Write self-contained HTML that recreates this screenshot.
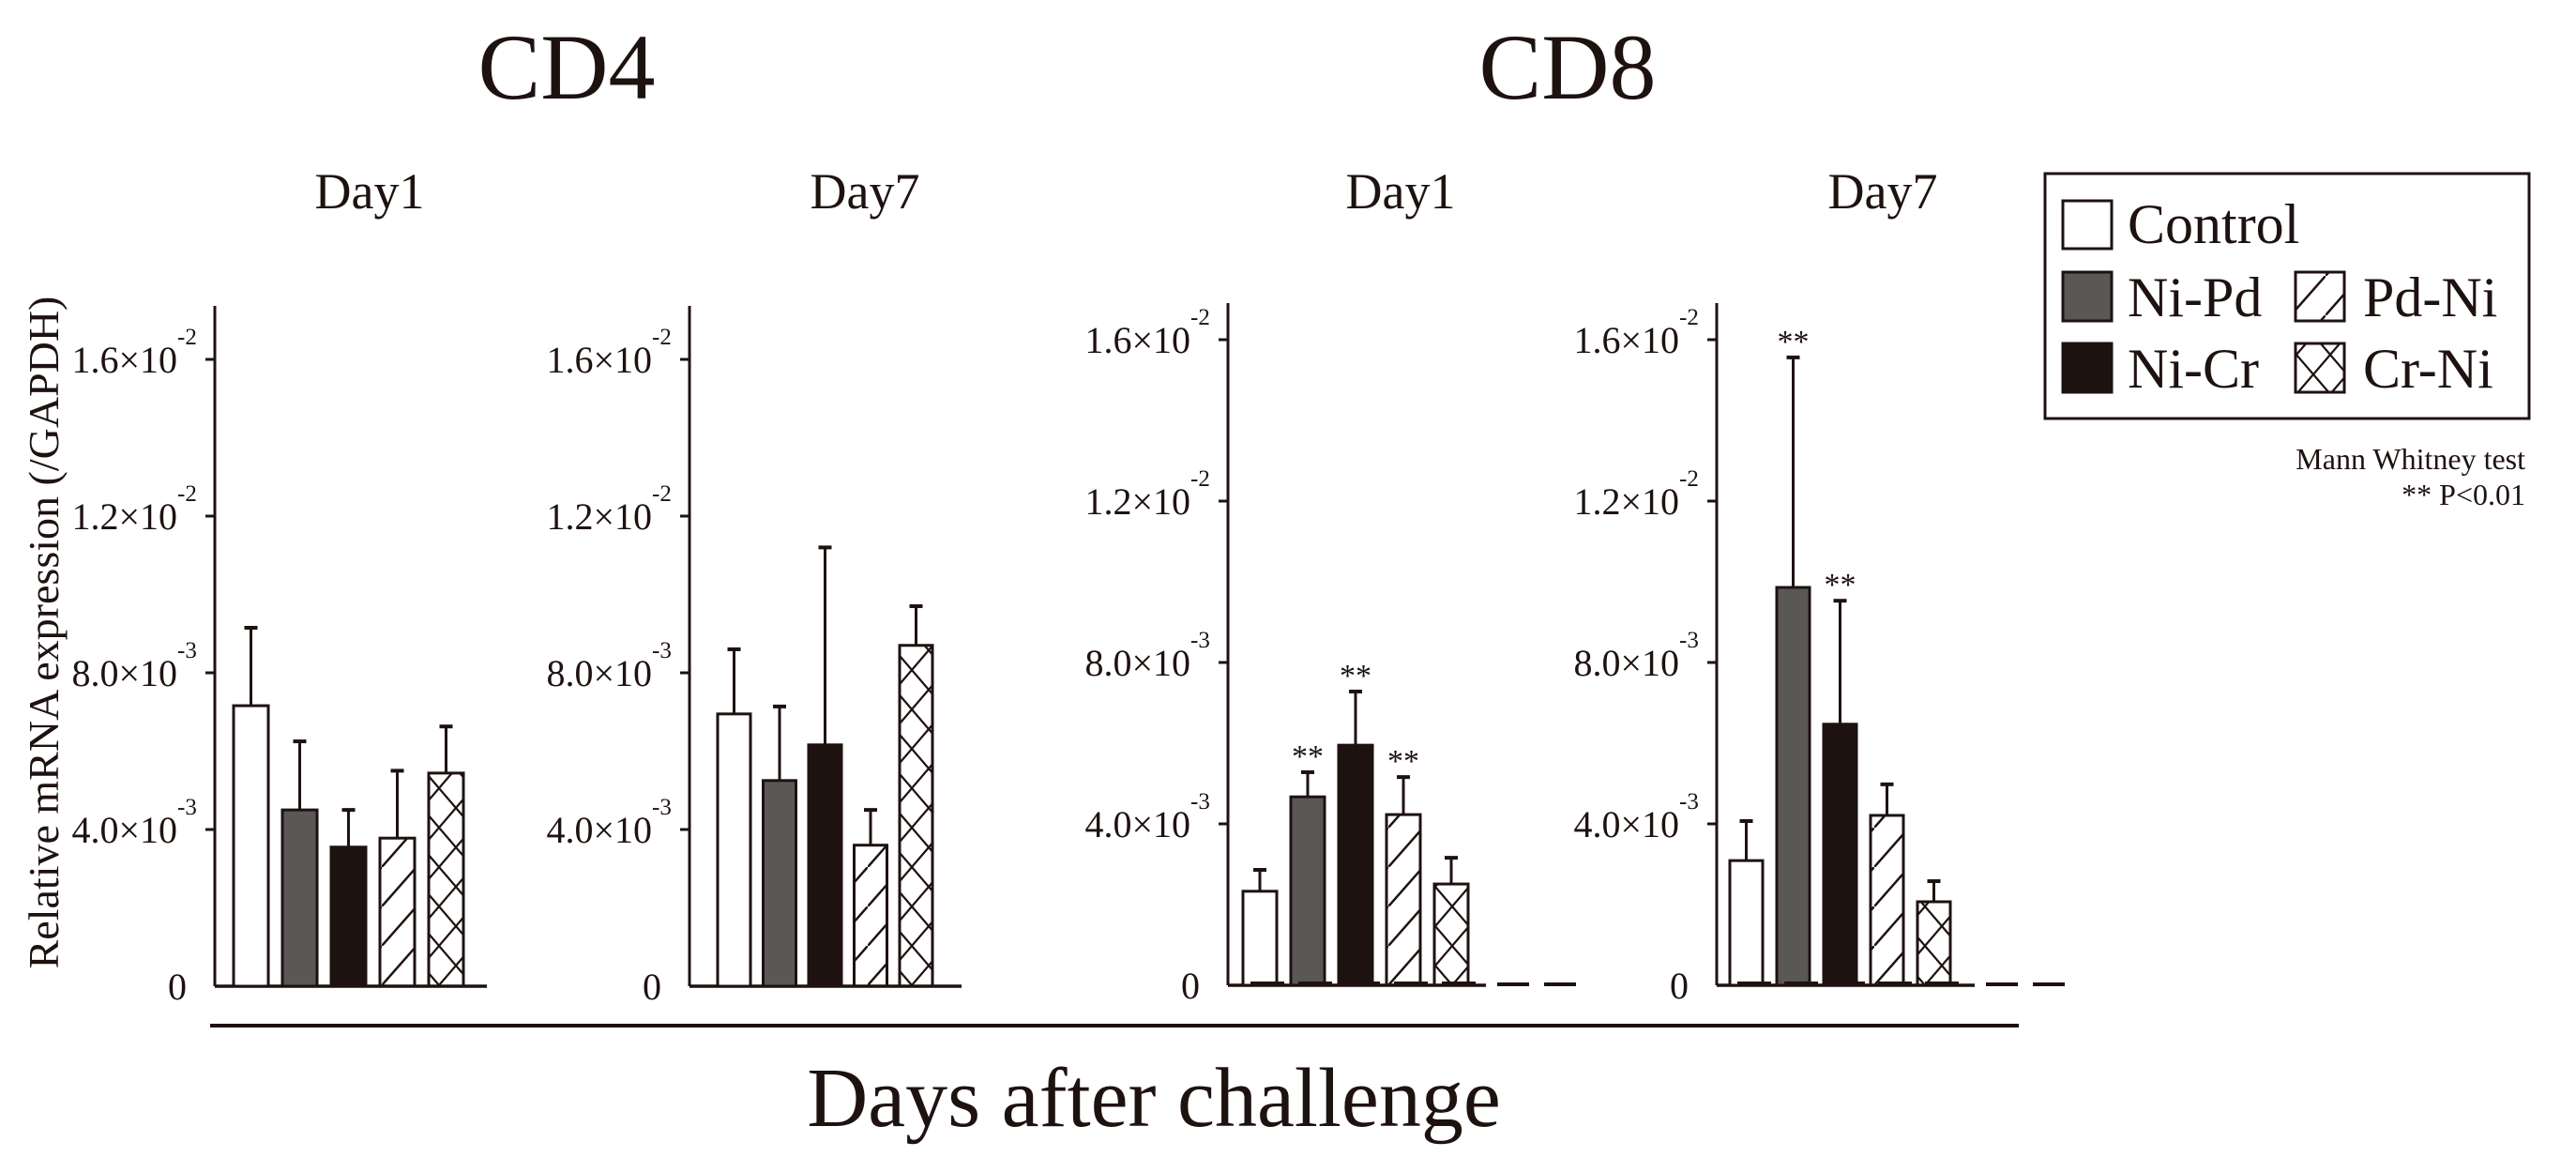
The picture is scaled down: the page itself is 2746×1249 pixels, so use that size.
<!DOCTYPE html>
<html><head><meta charset="utf-8"><style>
html,body{margin:0;padding:0;background:#fff;}
svg{display:block;font-family:"Liberation Serif",serif;}
</style></head><body>
<svg id="chart" width="2746" height="1249" viewBox="0 0 2746 1249" xmlns="http://www.w3.org/2000/svg">
<defs>
<pattern id="hatch" patternUnits="userSpaceOnUse" width="37" height="42">
<line x1="0" y1="42" x2="37" y2="0" stroke="#1e1210" stroke-width="2.5"/>
</pattern>
<pattern id="cross" patternUnits="userSpaceOnUse" width="36" height="42">
<line x1="0" y1="0" x2="36" y2="42" stroke="#1e1210" stroke-width="2.2"/>
<line x1="36" y1="0" x2="0" y2="42" stroke="#1e1210" stroke-width="2.2"/>
</pattern>
</defs>
<text x="604" y="105" font-size="100" text-anchor="middle" fill="#1e1210">CD4</text>
<text x="1671" y="105" font-size="100" text-anchor="middle" fill="#1e1210">CD8</text>
<text x="62" y="674" font-size="46" text-anchor="middle" fill="#1e1210" transform="rotate(-90 62 674)">Relative mRNA expression (/GAPDH)</text>
<line x1="224" y1="1093" x2="2152" y2="1093" stroke="#1e1210" stroke-width="4"/>
<text x="1230" y="1200" font-size="90" text-anchor="middle" fill="#1e1210">Days after challenge</text>
<g>
<rect x="2180" y="185" width="516" height="261" fill="none" stroke="#1e1210" stroke-width="3"/>
<rect x="2199" y="214" width="52" height="51" fill="#fff" stroke="#1e1210" stroke-width="3"/>
<text x="2268" y="259" font-size="60" fill="#1e1210">Control</text>
<rect x="2199" y="290" width="52" height="52" fill="#595857" stroke="#1e1210" stroke-width="3"/>
<text x="2268" y="337" font-size="60" fill="#1e1210">Ni-Pd</text>
<rect x="2199" y="366" width="52" height="52" fill="#1e1210" stroke="#1e1210" stroke-width="3"/>
<text x="2268" y="413" font-size="60" fill="#1e1210">Ni-Cr</text>
<rect x="2447" y="290" width="52" height="52" fill="url(#hatch)" stroke="#1e1210" stroke-width="3"/>
<text x="2519" y="337" font-size="60" fill="#1e1210">Pd-Ni</text>
<rect x="2447" y="366" width="52" height="52" fill="url(#cross)" stroke="#1e1210" stroke-width="3"/>
<text x="2519" y="413" font-size="60" fill="#1e1210">Cr-Ni</text>
</g>
<text x="2692" y="500" font-size="32" text-anchor="end" fill="#1e1210">Mann Whitney test</text>
<text x="2692" y="538" font-size="32" text-anchor="end" fill="#1e1210">** P&lt;0.01</text>
<g id="panels"></g>
</svg>
<script>
const groups = ["Control","Ni-Pd","Ni-Cr","Pd-Ni","Cr-Ni"];
const panelTitles = ["Day1","Day7","Day1","Day7"];
const tickValues = [0, 0.004, 0.008, 0.012, 0.016];
const tickMantissa = ["0","4.0","8.0","1.2","1.6"];
const tickExponent = ["","-3","-3","-2","-2"];
const cd4Day1 = [0.00716, 0.0045, 0.00355, 0.00378, 0.00544];
const cd4Day1Err = [0.00915, 0.00625, 0.0045, 0.0055, 0.00663];
const cd4Day7 = [0.00695, 0.00525, 0.00616, 0.0036, 0.0087];
const cd4Day7Err = [0.0086, 0.00714, 0.0112, 0.0045, 0.0097];
const cd8Day1 = [0.00233, 0.00467, 0.00595, 0.00423, 0.00251];
const cd8Day1Err = [0.00286, 0.00528, 0.00728, 0.00516, 0.00316];
const cd8Day7 = [0.00309, 0.00986, 0.00647, 0.00421, 0.00207];
const cd8Day7Err = [0.00407, 0.01556, 0.00953, 0.00498, 0.00258];
const cd8Day1Sig = [false, true, true, true, false];
const cd8Day7Sig = [false, true, true, false, false];
const noSig = [false, false, false, false, false];

const fills = ["#fff","#595857","#1e1210","url(#hatch)","url(#cross)"];
const NS = "http://www.w3.org/2000/svg";
const root = document.getElementById("panels");
function mk(tag, attrs, parent){const e=document.createElementNS(NS,tag);for(const k in attrs)e.setAttribute(k,attrs[k]);(parent||root).appendChild(e);return e;}

const layout = [
 {ax:229, top:326, zero:1051, unit:167, end:519, b0:249, pitch:52, bw:37, tx:394, dash:false, vals:cd4Day1, err:cd4Day1Err, sig:noSig},
 {ax:735, top:326, zero:1051, unit:167, end:1025, b0:765, pitch:48.5, bw:35, tx:922, dash:false, vals:cd4Day7, err:cd4Day7Err, sig:noSig},
 {ax:1309, top:323, zero:1050, unit:172, end:1584, b0:1325, pitch:51, bw:36, tx:1493, dash:true, vals:cd8Day1, err:cd8Day1Err, sig:cd8Day1Sig},
 {ax:1830, top:323, zero:1050, unit:172, end:2105, b0:1844, pitch:50, bw:35, tx:2007, dash:true, vals:cd8Day7, err:cd8Day7Err, sig:cd8Day7Sig}
];

layout.forEach((p,pi)=>{
  const g = mk("g",{});
  
  
  const y = v => p.zero - v/0.004*p.unit;
  const t = mk("text",{x:p.tx,y:222,"font-size":54,"text-anchor":"middle",fill:"#1e1210"},g);
  t.textContent = panelTitles[pi];
  
  
  const ya = mk("line",{x1:p.ax,y1:p.top,x2:p.ax,y2:p.zero,stroke:"#1e1210","stroke-width":3},g);
  
  
  const xa = mk("line",{x1:p.ax,y1:p.zero,x2:p.end,y2:p.zero,stroke:"#1e1210","stroke-width":3.5},g);
  
  
  if(p.dash){
    for(let d=0; d<2; d++){
      const dl = mk("line",{x1:p.end+12+d*50,y1:p.zero-1,x2:p.end+46+d*50,y2:p.zero-1,stroke:"#1e1210","stroke-width":4},g);
      
      
    }
  }
  tickValues.forEach((v,i)=>{
    const ty = y(v);
    if(i>0){
      const tk = mk("line",{x1:p.ax-10,y1:ty,x2:p.ax,y2:ty,stroke:"#1e1210","stroke-width":3},g);
      
      
      const lb = mk("text",{x:p.ax-40,y:ty+14,"font-size":40,"text-anchor":"end",fill:"#1e1210"},g);
      lb.textContent = tickMantissa[i]+"\u00d710";
      
      
      const ex = mk("text",{x:p.ax-40,y:ty-16,"font-size":25,fill:"#1e1210"},g);
      ex.textContent = tickExponent[i];
      
      
    } else {
      const lb = mk("text",{x:p.ax-30,y:ty+14,"font-size":40,"text-anchor":"end",fill:"#1e1210"},g);
      lb.textContent = tickMantissa[i];
      
      
    }
  });
  p.vals.forEach((v,i)=>{
    const x = p.b0 + i*p.pitch;
    const cx = x + p.bw/2;
    const et = y(p.err[i]);
    const el = mk("line",{x1:cx,y1:et,x2:cx,y2:y(v),stroke:"#1e1210","stroke-width":3},g);
    
    
    const ec = mk("line",{x1:cx-7,y1:et,x2:cx+7,y2:et,stroke:"#1e1210","stroke-width":4},g);
    
    
    const r = mk("rect",{x:x,y:y(v),width:p.bw,height:p.zero-y(v),fill:fills[i],stroke:"#1e1210","stroke-width":3},g);
    
    
    if(p.dash){
      const bs = mk("line",{x1:x+8,y1:p.zero-2,x2:x+44,y2:p.zero-2,stroke:"#1e1210","stroke-width":4},g);
      
      
    }
    if(p.sig[i]){
      const s = mk("text",{x:cx,y:et-6,"font-size":34,"text-anchor":"middle",fill:"#1e1210"},g);
      s.textContent = "**";
      
      
    }
  });
});
</script>
</body></html>
